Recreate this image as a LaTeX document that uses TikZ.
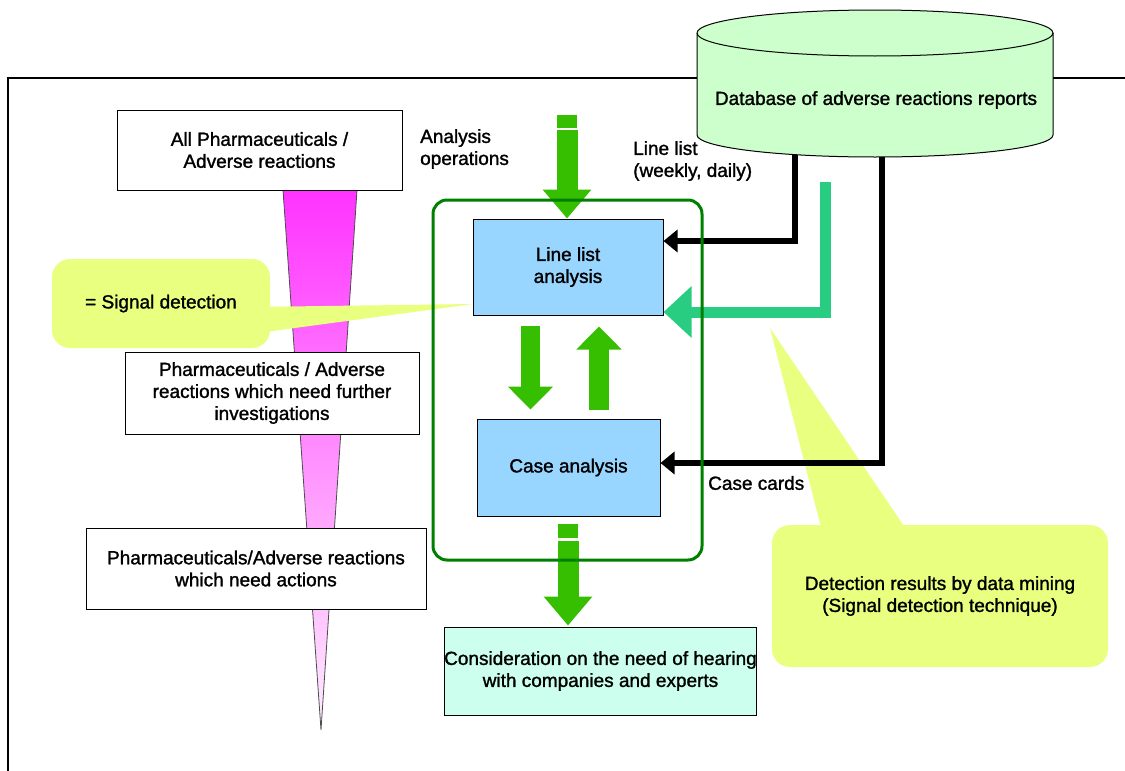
\documentclass[tikz,border=0pt]{standalone}
\usepackage{fontspec}
\setmainfont{Liberation Sans}[FakeBold=1.4]
\usetikzlibrary{arrows.meta}

\definecolor{dbgreen}{RGB}{204,255,204}
\definecolor{procblue}{RGB}{153,214,255}
\definecolor{mint}{RGB}{204,255,238}
\definecolor{noteyellow}{RGB}{233,255,128}
\definecolor{groupgreen}{RGB}{0,128,0}
\definecolor{flowgreen}{RGB}{54,190,0}
\definecolor{minegreen}{RGB}{40,205,130}
\definecolor{funneltop}{RGB}{255,51,255}
\definecolor{funnelbot}{RGB}{255,238,255}

\begin{document}
\begin{tikzpicture}[x=1pt,y=-1pt,
  every node/.style={font=\fontsize{19}{22}\selectfont, inner sep=0pt, align=center},
  whitebox/.style={draw=black, line width=1pt, fill=white},
  procbox/.style={draw=black, line width=1pt, fill=procblue},
  note/.style={fill=noteyellow, rounded corners=18pt},
  flowarrow/.style={draw=flowgreen, line width=21pt, -{Triangle[length=29pt,width=47pt]}},
  looparrow/.style={draw=flowgreen, line width=19.5pt, -{Triangle[length=23pt,width=44pt]}},
  feed/.style={draw=black, line width=6pt, line join=miter, -{Triangle[length=14pt,width=22pt]}},
  minefeed/.style={draw=minegreen, line width=11pt, line join=miter, -{Triangle[length=28pt,width=50pt]}},
  label/.style={anchor=west, align=left}
]
\useasboundingbox (0,0) rectangle (1125,771);

% open outer frame
\draw[line width=1.5pt] (8,771) -- (8,78) -- (1125,78);

% narrowing funnel behind the three stages
\shade[top color=funneltop, bottom color=funnelbot, draw=black!70, line width=0.8pt]
  (283,190) -- (357,190) -- (321,730) -- cycle;

% funnel stages
\node[whitebox, minimum width=285pt, minimum height=80pt] (all) at (259.5,150)
  {All Pharmaceuticals /\\Adverse reactions};
\node[whitebox, minimum width=294pt, minimum height=82pt] (further) at (272,393)
  {Pharmaceuticals / Adverse\\reactions which need further\\investigations};
\node[whitebox, minimum width=340pt, minimum height=81pt] (actions) at (256,568.5)
  {Pharmaceuticals/Adverse reactions\\which need actions};

% note: signal detection
\node[note, minimum width=218pt, minimum height=89pt] (sig) at (161,303.5) {= Signal detection};
\coordinate (sigtip) at (473,304);
\fill[noteyellow] ([xshift=-20pt,yshift=-3.5pt]sig.east) -- (sigtip) -- ([xshift=-20pt,yshift=-30.5pt]sig.east) -- cycle;

% note: data mining
\node[note, minimum width=336pt, minimum height=142pt] (dm) at (940,596)
  {Detection results by data mining\\(Signal detection technique)};
\coordinate (dmtip) at (770,328);
\fill[noteyellow] (823,535) -- (dmtip) -- (910,535) -- cycle;

% process boxes
\node[procbox, minimum width=190pt, minimum height=96pt] (linelist) at (568,267) {Line list\\analysis};
\node[procbox, minimum width=183pt, minimum height=97pt] (case) at (568.5,467.5) {Case analysis};
\node[draw=black, line width=1pt, fill=mint, minimum width=311pt, minimum height=88pt] (consider) at (600.5,671)
  {Consideration on the need of hearing\\with companies and experts};

% analysis operations flow
\fill[flowgreen] (557,115) rectangle (577,128);
\coordinate (a1) at (567,130);
\draw[flowarrow] (a1) -- (a1 |- linelist.north);
\fill[flowgreen] (558,524) rectangle (578,538);
\coordinate (a2) at (568,541);
\draw[flowarrow, shorten >=1pt] (a2) -- (a2 |- consider.north);

% loop between line list and case analysis
\coordinate (m1) at (530.5,326);
\draw[looparrow, shorten >=9pt] (m1) -- (m1 |- case.north);
\coordinate (m2) at (599,410);
\draw[looparrow, shorten >=11pt] (m2) -- (m2 |- linelist.south);

% feeds from the database
\coordinate (d1) at (795,150);
\coordinate (j1) at (795,241);
\draw[feed] (d1) -- (j1) -- (j1 -| linelist.east);
\coordinate (d2) at (882,150);
\coordinate (j2) at (882,463);
\draw[feed] (d2) -- (j2) -- (j2 -| case.east);
\coordinate (t0) at (825,182);
\coordinate (t1) at (825,312);
\draw[minefeed] (t0) -- (t1) -- (t1 -| linelist.east);

% database cylinder
\draw[fill=dbgreen, line width=1pt]
  (697,33) -- (697,135)
  .. controls (697,147.15) and (776.7,157) .. (875,157)
  .. controls (973.3,157) and (1053,147.15) .. (1053,135)
  -- (1053,33)
  .. controls (1053,20.3) and (973.3,10) .. (875,10)
  .. controls (776.7,10) and (697,20.3) .. (697,33) -- cycle;
\draw[line width=1pt] (697,33) .. controls (697,45.7) and (776.7,56) .. (875,56)
  .. controls (973.3,56) and (1053,45.7) .. (1053,33);
\node (db) at (876,100) {Database of adverse reactions reports};

% analysis group frame
\node[draw=groupgreen, line width=3pt, rounded corners=14pt, minimum width=269pt, minimum height=360pt] (grp) at (567.5,380) {};

% free labels
\node[label] (ops) at (420,149) {Analysis\\operations};
\node[label] (ll) at (633,161) {Line list\\(weekly, daily)};
\node[label] (cc) at (708,483) {Case cards};
\end{tikzpicture}
\end{document}
